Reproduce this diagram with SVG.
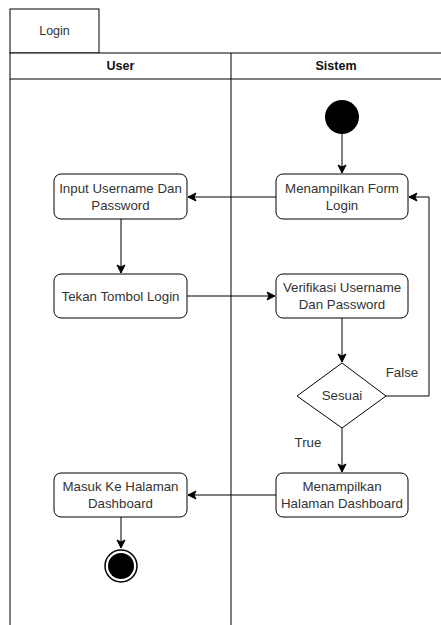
<svg xmlns="http://www.w3.org/2000/svg" width="441" height="625" viewBox="0 0 441 625">
<style>
.ln{fill:none;stroke:#000;stroke-width:1}
.box{fill:#fff;stroke:#000;stroke-width:1}
.t{font-family:"Liberation Sans",Arial,sans-serif;font-size:13.3px;fill:#333;text-anchor:middle}
.h{font-family:"Liberation Sans",Arial,sans-serif;font-size:12.5px;font-weight:bold;fill:#111;text-anchor:middle}
</style>
<defs>
<marker id="ah" markerWidth="10" markerHeight="10" refX="9" refY="5" orient="auto" markerUnits="userSpaceOnUse">
<path d="M1,1 L9,5 L1,9 L3,5 Z" fill="#000" stroke="#000"/>
</marker>
</defs>
<rect width="441" height="625" fill="#fff"/>
<g id="pool">
<rect x="10" y="9" width="89" height="44" class="box"/>
<text x="54.5" y="35" class="t" style="font-size:12.5px">Login</text>
<rect x="10" y="53" width="440" height="26" class="box"/>
<line x1="10" y1="79" x2="10" y2="625" class="ln"/>
<line x1="231" y1="53" x2="231" y2="625" class="ln"/>
<text x="120.5" y="70" class="h">User</text>
<text x="336" y="70" class="h">Sistem</text>
</g>
<g id="connectors">
<line x1="342" y1="134" x2="342" y2="173" class="ln" marker-end="url(#ah)"/>
<line x1="276" y1="197" x2="188" y2="197" class="ln" marker-end="url(#ah)"/>
<line x1="121" y1="219" x2="121" y2="273" class="ln" marker-end="url(#ah)"/>
<line x1="187" y1="296" x2="275" y2="296" class="ln" marker-end="url(#ah)"/>
<line x1="342" y1="318" x2="342" y2="362" class="ln" marker-end="url(#ah)"/>
<polyline points="386,396 429,396 429,197 409,197" class="ln" marker-end="url(#ah)"/>
<line x1="342" y1="428" x2="342" y2="472" class="ln" marker-end="url(#ah)"/>
<line x1="276" y1="495" x2="188" y2="495" class="ln" marker-end="url(#ah)"/>
<line x1="121" y1="517" x2="121" y2="548" class="ln" marker-end="url(#ah)"/>
<text x="402" y="377" class="t">False</text>
<text x="308" y="447" class="t">True</text>
</g>
<g id="start"><circle cx="342" cy="117" r="17" fill="#000"/></g>
<g id="form"><rect x="276" y="174" width="132" height="45" rx="7" class="box"/>
<text x="342" y="193" class="t">Menampilkan Form</text><text x="342" y="210" class="t">Login</text></g>
<g id="input"><rect x="54" y="174" width="133" height="45" rx="7" class="box"/>
<text x="120.5" y="193" class="t">Input Username Dan</text><text x="120.5" y="210" class="t">Password</text></g>
<g id="tekan"><rect x="54" y="274" width="133" height="44" rx="7" class="box"/>
<text x="120.5" y="301" class="t">Tekan Tombol Login</text></g>
<g id="verifikasi"><rect x="276" y="274" width="132" height="44" rx="7" class="box"/>
<text x="342" y="292" class="t">Verifikasi Username</text><text x="342" y="309" class="t">Dan Password</text></g>
<g id="sesuai"><polygon points="342,363 386,396 342,428 297,396" class="box"/>
<text x="342" y="400" class="t">Sesuai</text></g>
<g id="dashboard"><rect x="276" y="473" width="132" height="44" rx="7" class="box"/>
<text x="342" y="491" class="t">Menampilkan</text><text x="342" y="508" class="t">Halaman Dashboard</text></g>
<g id="masuk"><rect x="54" y="473" width="133" height="44" rx="7" class="box"/>
<text x="120.5" y="491" class="t">Masuk Ke Halaman</text><text x="120.5" y="508" class="t">Dashboard</text></g>
<g id="end"><circle cx="121" cy="566" r="16" fill="#fff" stroke="#000" stroke-width="1.5"/><circle cx="121" cy="566" r="13" fill="#000"/></g>
</svg>
